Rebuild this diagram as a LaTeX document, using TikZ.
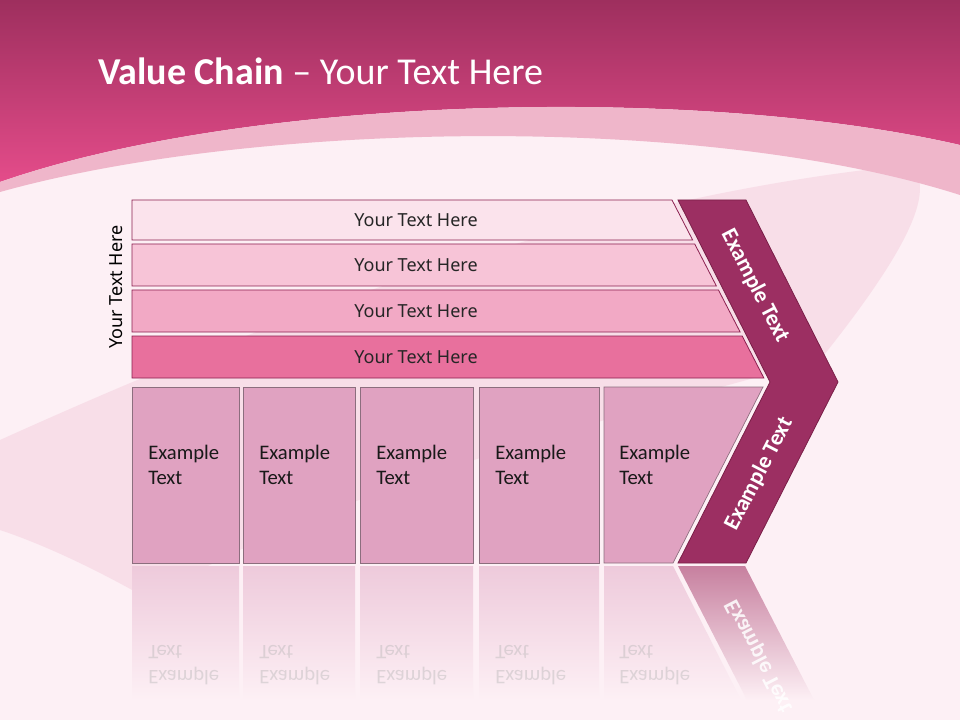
\documentclass[tikz,border=0pt]{standalone}
\usepackage{fontspec}
\setmainfont{Carlito}
\newfontfamily\barfont{Noto Sans}
\definecolor{bgpink}{HTML}{FDF0F5}
\definecolor{headtop}{HTML}{9E2F5E}
\definecolor{headbot}{HTML}{E44C8A}
\definecolor{bandpink}{HTML}{EFB6CA}
\definecolor{brushpink}{HTML}{F1C3D5}
\definecolor{barone}{HTML}{FBE3EC}
\definecolor{bartwo}{HTML}{F7C4D7}
\definecolor{barthree}{HTML}{F2A9C5}
\definecolor{barfour}{HTML}{E8709D}
\definecolor{barline}{HTML}{8B2050}
\definecolor{boxfill}{HTML}{E0A2C1}
\definecolor{boxline}{HTML}{8C6E7E}
\definecolor{boxrefl}{HTML}{EECADB}
\definecolor{chevfill}{HTML}{9C2F62}
\definecolor{chevline}{HTML}{7A1F48}
\definecolor{chevrefl}{HTML}{C7809F}
\begin{document}
\begin{tikzpicture}[x=0.75pt,y=-0.75pt,
  bartext/.style={font=\barfont\fontsize{13.5}{16}\selectfont,text=black!85},
  boxtext/.style={font=\fontsize{15.5}{19}\selectfont,align=left,anchor=west,inner sep=0pt,text=black!90},
  refltext/.style={boxtext,yscale=-1,text=black!30,opacity=0.4},
  chevtext/.style={font=\bfseries\fontsize{17}{20}\selectfont,text=white}]
  \useasboundingbox (0,0) rectangle (960,720);
  \fill[bgpink] (0,0) rectangle (960,720);
  \fill[brushpink,opacity=0.4]
    (0,440) .. controls (200,350) and (550,200) .. (910,165) ..
    controls (940,190) and (900,260) .. (820,360) ..
    controls (600,420) and (300,500) .. (150,600) ..
    controls (80,560) and (30,540) .. (0,530) -- cycle;
  \shade[top color=headtop,bottom color=headbot]
    (0,0) -- (960,0) -- (960,145) ..
    controls (700,85) and (250,95) .. (0,182) -- cycle;
  \fill[bandpink]
    (0,182) .. controls (250,95) and (700,85) .. (960,145) --
    (960,195) .. controls (700,112) and (250,122) .. (0,192) -- cycle;
  \node[anchor=base west,inner sep=0pt,text=white,font=\fontsize{28.5}{32}\selectfont]
    (title) at (98,85) {\textbf{Value Chain} -- Your Text Here};
  \foreach \t/\b/\c/\n in {200/240/barone/1,244/286/bartwo/2,290/332/barthree/3,336/378/barfour/4}{
    \filldraw[fill=\c,draw=barline,line width=0.6pt]
      (132,\t) -- ({672+0.516*(\t-200)},\t) --
      ({672+0.516*(\b-200)},\b) -- (132,\b) -- cycle;
    \node[bartext] (bar\n) at (416,{(\t+\b)/2}) {Your Text Here};
  }
  \node[bartext,text=black,rotate=90] (side) at (116,287) {Your Text Here};
  \foreach \l/\r/\n in {132/239/1,243/355/2,360/473/3,479/599/4}{
    \filldraw[fill=boxfill,draw=boxline,line width=0.5pt] (\l,387) rectangle (\r,563);
    \node[boxtext] (box\n) at (\l+16,465) {Example\\Text};
    \shade[top color=boxrefl,bottom color=bgpink] (\l,566) rectangle (\r,700);
    \node[refltext] (refl\n) at (\l+16,665) {Example\\Text};
  }
  \filldraw[fill=boxfill,draw=boxline,line width=0.5pt]
    (604,387) -- (763,387) -- (673,563) -- (604,563) -- cycle;
  \node[boxtext] (box5) at (619,465) {Example\\Text};
  \shade[top color=boxrefl,bottom color=bgpink]
    (604,566) -- (673,566) -- (741,700) -- (604,700) -- cycle;
  \node[refltext] (refl5) at (619,665) {Example\\Text};
  \filldraw[fill=chevfill,draw=chevline,line width=0.6pt]
    (678,200) -- (746,200) -- (838,382) -- (746,563) --
    (678,563) -- (770,382) -- cycle;
  \node[chevtext,rotate=-62.7] (chevtop) at (755,286) {Example Text};
  \node[chevtext,rotate=62.7] (chevbot) at (759,474) {Example Text};
  \shade[top color=chevrefl,bottom color=bgpink]
    (678,566) -- (745,566) -- (814,700) -- (747,700) -- cycle;
  \node[chevtext,rotate=-62.7,yscale=-1,opacity=0.85] (chevrefl) at (759,656) {Example Text};
\end{tikzpicture}
\end{document}
